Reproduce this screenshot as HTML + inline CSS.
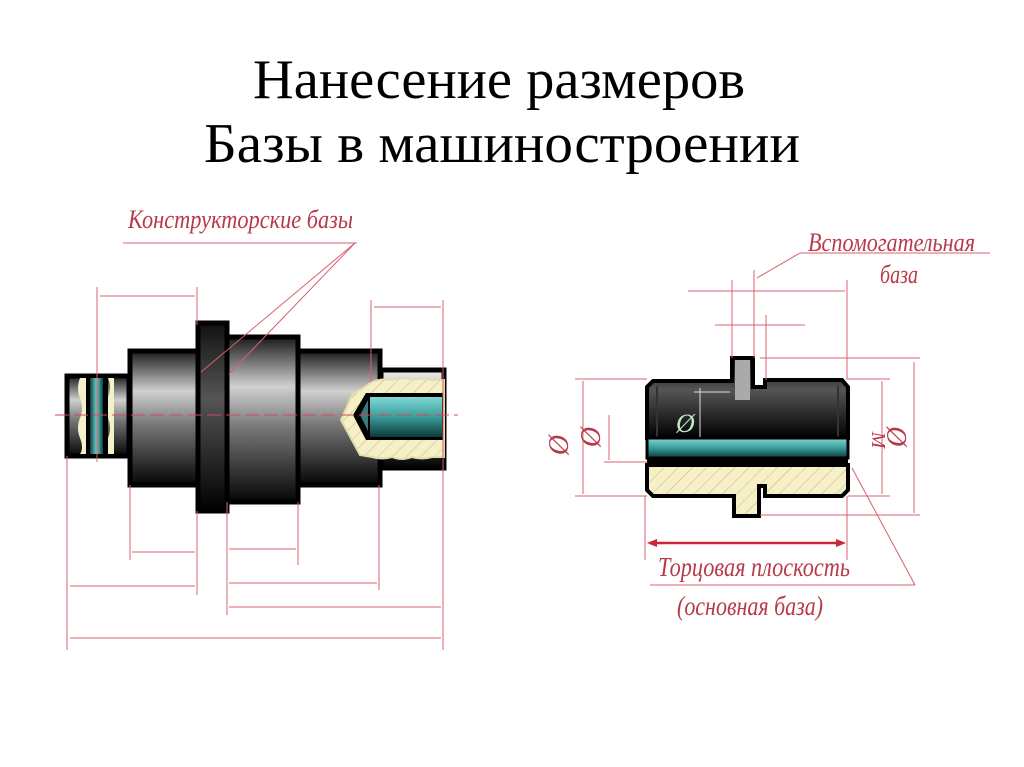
<!DOCTYPE html>
<html><head><meta charset="utf-8"><style>
html,body{margin:0;padding:0;background:#fff;width:1024px;height:767px;overflow:hidden}
svg{display:block}
</style></head><body>
<svg width="1024" height="767" viewBox="0 0 1024 767" xmlns="http://www.w3.org/2000/svg">
<defs>
<linearGradient id="g" x1="0" y1="0" x2="0" y2="1">
<stop offset="0" stop-color="#1a1a1a"/><stop offset="0.3" stop-color="#d0d0d0"/><stop offset="0.55" stop-color="#777"/><stop offset="1" stop-color="#050505"/>
</linearGradient>
<linearGradient id="g2" x1="0" y1="0" x2="0" y2="1">
<stop offset="0" stop-color="#f0f0f0"/><stop offset="0.5" stop-color="#777"/><stop offset="1" stop-color="#000"/>
</linearGradient>
<linearGradient id="gd" x1="0" y1="0" x2="0" y2="1">
<stop offset="0" stop-color="#111"/><stop offset="0.4" stop-color="#555"/><stop offset="1" stop-color="#000"/>
</linearGradient>
<linearGradient id="t" x1="0" y1="0" x2="0" y2="1">
<stop offset="0" stop-color="#7fd8d4"/><stop offset="0.5" stop-color="#3a9c9a"/><stop offset="1" stop-color="#0c3a3a"/>
</linearGradient>
<linearGradient id="tl" x1="0" y1="0" x2="1" y2="0">
<stop offset="0" stop-color="#0d4040"/><stop offset="0.5" stop-color="#6ccfcb"/><stop offset="1" stop-color="#0d4040"/>
</linearGradient>
<pattern id="h" width="10" height="10" patternUnits="userSpaceOnUse" patternTransform="rotate(45)">
<rect width="10" height="10" fill="#f5f0c8"/><line x1="0" y1="0" x2="0" y2="10" stroke="#c9b87a" stroke-width="1"/>
</pattern>
</defs>

<text x="499" y="98" text-anchor="middle" font-family="Liberation Serif, serif" font-size="56" fill="#000" textLength="492" lengthAdjust="spacingAndGlyphs">Нанесение размеров</text>
<text x="502" y="162" text-anchor="middle" font-family="Liberation Serif, serif" font-size="56" fill="#000" textLength="596" lengthAdjust="spacingAndGlyphs">Базы в машиностроении</text>

<!-- LEFT SHAFT -->
<g stroke="#000" stroke-width="5">
<rect x="67" y="376" width="62" height="80" fill="url(#g)"/>
<rect x="130" y="351" width="68" height="134" fill="url(#g)"/>
<rect x="227" y="337" width="71" height="165" fill="url(#g)"/>
<rect x="298" y="351" width="82" height="134" fill="url(#g)"/>
<rect x="381" y="370" width="63" height="98" fill="url(#g2)"/>
<rect x="198" y="323" width="29" height="188" fill="url(#gd)"/>
</g>
<path d="M80 378 q-4 10 0 20 q4 10 0 20 q-4 10 0 20 q4 10 0 16 L86 454 L86 378Z" fill="#f5f0c8"/>
<path d="M108 378 q4 10 0 20 q-4 10 0 20 q4 10 0 20 q-4 10 0 16 L114 454 L114 378Z" fill="#f5f0c8"/>
<rect x="86" y="377" width="22" height="78" fill="#000"/>
<rect x="90" y="378" width="13" height="76" fill="url(#tl)"/>
<path d="M372 382 q10 -4 20 -2 q10 -4 20 0 q10 -3 20 0 l12 0 l0 77 l-12 0 q-10 3 -20 0 q-10 4 -20 0 q-10 3 -20 0 L360 455 L341 420 L352 395 Z" fill="url(#h)" stroke="#e4dcae" stroke-width="2"/>
<path d="M353 415 L366 393 L443 393 L443 440 L366 440 Z" fill="#000"/>
<path d="M360 415 L368 400 L368 431 Z" fill="#3a7a7a"/>
<rect x="370" y="397" width="72" height="40" fill="url(#t)"/>

<line x1="55" y1="415" x2="458" y2="415" stroke="#d24a5a" stroke-width="1" stroke-dasharray="14 5"/>

<g stroke="#d8606c" stroke-width="1" fill="none">
<line x1="97" y1="287" x2="97" y2="462"/>
<line x1="197" y1="287" x2="197" y2="325"/>
<line x1="371" y1="300" x2="371" y2="382"/>
<line x1="443" y1="300" x2="443" y2="650"/>
<line x1="67" y1="456" x2="67" y2="650"/>
<line x1="130" y1="485" x2="130" y2="560"/>
<line x1="197" y1="511" x2="197" y2="595"/>
<line x1="227" y1="502" x2="227" y2="615"/>
<line x1="298" y1="502" x2="298" y2="565"/>
<line x1="379" y1="485" x2="379" y2="590"/>
<line x1="100" y1="296" x2="195" y2="296"/>
<line x1="374" y1="307" x2="441" y2="307"/>
<line x1="132" y1="552" x2="195" y2="552"/>
<line x1="229" y1="549" x2="296" y2="549"/>
<line x1="70" y1="586" x2="195" y2="586"/>
<line x1="229" y1="583" x2="377" y2="583"/>
<line x1="229" y1="607" x2="441" y2="607"/>
<line x1="70" y1="638" x2="441" y2="638"/>
<line x1="123" y1="243" x2="357" y2="243"/>
<line x1="355" y1="243" x2="201" y2="372"/>
<line x1="355" y1="243" x2="229" y2="374"/>
</g>
<text x="128" y="228" font-family="Liberation Serif, serif" font-style="italic" font-size="26" fill="#b83a4a" textLength="225" lengthAdjust="spacingAndGlyphs">Конструкторские базы</text>

<!-- RIGHT PART -->
<path d="M653 381 L732 381 L732 358 L753 358 L753 387 L765 387 L765 380 L842 380 L848 387 L848 438 L647 438 L647 387 Z" fill="url(#gd)" stroke="#000" stroke-width="4"/>
<rect x="735" y="360" width="15" height="40" fill="#aaa"/>
<line x1="657" y1="386" x2="657" y2="438" stroke="#333" stroke-width="2"/>
<line x1="838" y1="386" x2="838" y2="438" stroke="#333" stroke-width="2"/>
<rect x="647" y="438" width="201" height="20" fill="url(#t)" stroke="#000" stroke-width="3"/>
<rect x="647" y="458" width="201" height="7" fill="#000"/>
<path d="M647 465 L848 465 L848 490 L842 496 L765 496 L765 486 L759 486 L759 516 L734 516 L734 496 L653 496 L647 490 Z" fill="url(#h)" stroke="#000" stroke-width="4"/>
<line x1="700" y1="388" x2="700" y2="437" stroke="#ddd" stroke-width="1"/>
<line x1="694" y1="392" x2="730" y2="392" stroke="#ddd" stroke-width="1"/>
<text x="676" y="432" font-family="Liberation Serif, serif" font-style="italic" font-size="26" fill="#bfe8c8">Ø</text>

<g stroke="#d8606c" stroke-width="1" fill="none">
<line x1="732" y1="280" x2="732" y2="358"/>
<line x1="754" y1="270" x2="754" y2="358"/>
<line x1="766" y1="315" x2="766" y2="380"/>
<line x1="847" y1="280" x2="847" y2="380"/>
<line x1="688" y1="291" x2="845" y2="291"/>
<line x1="715" y1="325" x2="805" y2="325"/>
<line x1="760" y1="358" x2="920" y2="358"/>
<line x1="575" y1="379" x2="647" y2="379"/>
<line x1="575" y1="496" x2="647" y2="496"/>
<line x1="848" y1="379" x2="890" y2="379"/>
<line x1="848" y1="496" x2="890" y2="496"/>
<line x1="760" y1="515" x2="920" y2="515"/>
<line x1="583" y1="381" x2="583" y2="494"/>
<line x1="609" y1="415" x2="609" y2="460"/>
<line x1="604" y1="462" x2="647" y2="462"/>
<line x1="882" y1="381" x2="882" y2="494"/>
<line x1="914" y1="362" x2="914" y2="513"/>
<line x1="645" y1="496" x2="645" y2="560"/>
<line x1="847" y1="496" x2="847" y2="560"/>
<line x1="800" y1="253" x2="990" y2="253"/>
<line x1="800" y1="253" x2="757" y2="278"/>
<line x1="650" y1="585" x2="915" y2="585"/>
<line x1="915" y1="585" x2="852" y2="468"/>
</g>
<line x1="650" y1="543" x2="843" y2="543" stroke="#c8283a" stroke-width="2.5"/>
<path d="M647 543 l10 -4 l0 8z M846 543 l-10 -4 l0 8z" fill="#c8283a"/>
<g font-family="Liberation Serif, serif" font-style="italic" fill="#b83a4a">
<text x="568" y="445" font-size="28" transform="rotate(-90 568 445)" text-anchor="middle">Ø</text>
<text x="600" y="437" font-size="28" transform="rotate(-90 600 437)" text-anchor="middle">Ø</text>
<text x="872" y="440" font-size="20" transform="rotate(90 872 440)" text-anchor="middle">M</text>
<text x="906" y="437" font-size="28" transform="rotate(-90 906 437)" text-anchor="middle">Ø</text>
<text x="808" y="251" font-size="26" textLength="167" lengthAdjust="spacingAndGlyphs">Вспомогательная</text>
<text x="880" y="283" font-size="26" textLength="38" lengthAdjust="spacingAndGlyphs">база</text>
<text x="658" y="576" font-size="27" textLength="192" lengthAdjust="spacingAndGlyphs">Торцовая плоскость</text>
<text x="677" y="615" font-size="27" textLength="146" lengthAdjust="spacingAndGlyphs">(основная база)</text>
</g>
</svg>
</body></html>
